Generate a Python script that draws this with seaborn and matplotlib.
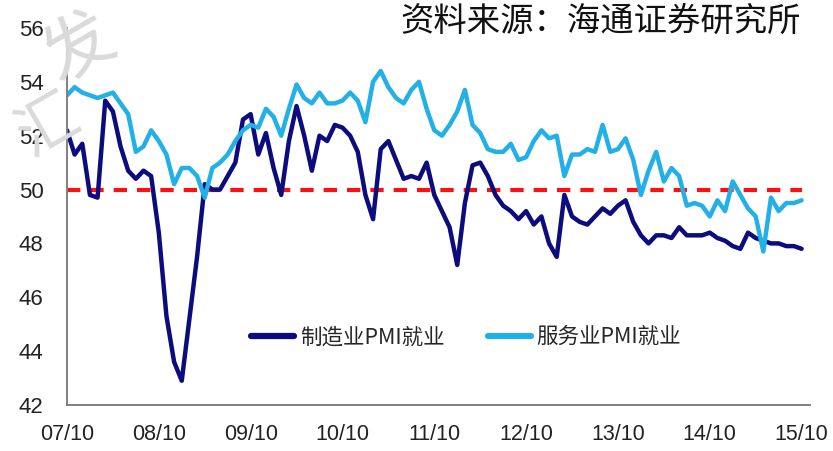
import numpy as np
import pandas as pd
import matplotlib
matplotlib.use("Agg")
import matplotlib.pyplot as plt
import seaborn as sns

# Monthly PMI employment sub-indices, 2007/10 - 2015/10
manufacturing = [
    52.2, 51.3, 51.7, 49.8, 49.7, 53.3, 52.9, 51.6, 50.7, 50.4, 50.7, 50.5,
    48.4, 45.3, 43.6, 42.9, 45.2, 47.5, 50.2, 50.0, 50.0, 50.5, 51.0, 52.6,
    52.8, 51.3, 52.1, 50.8, 49.8, 51.8, 53.1, 52.0, 50.7, 52.0, 51.8, 52.4,
    52.3, 52.0, 51.4, 49.8, 48.9, 51.5, 51.8, 51.1, 50.4, 50.5, 50.4, 51.0,
    49.8, 49.2, 48.6, 47.2, 49.5, 50.9, 51.0, 50.5, 49.8, 49.4, 49.2, 48.9,
    49.2, 48.7, 49.0, 48.0, 47.5, 49.8, 49.0, 48.8, 48.7, 49.0, 49.3, 49.1,
    49.4, 49.6, 48.8, 48.3, 48.0, 48.3, 48.3, 48.2, 48.6, 48.3, 48.3, 48.3,
    48.4, 48.2, 48.1, 47.9, 47.8, 48.4, 48.2, 48.1, 48.0, 48.0, 47.9, 47.9,
    47.8,
]
services = [
    53.5, 53.8, 53.6, 53.5, 53.4, 53.5, 53.6, 53.2, 52.8, 51.4, 51.6, 52.2,
    51.8, 51.3, 50.2, 50.8, 50.8, 50.5, 49.7, 50.8, 51.0, 51.3, 51.8, 52.2,
    52.4, 52.3, 53.0, 52.7, 52.0, 53.0, 53.9, 53.4, 53.2, 53.6, 53.2, 53.2,
    53.3, 53.6, 53.3, 52.5, 54.0, 54.4, 53.8, 53.4, 53.2, 53.7, 54.0, 53.0,
    52.2, 52.0, 52.4, 52.9, 53.7, 52.4, 52.1, 51.5, 51.4, 51.4, 51.7, 51.1,
    51.2, 51.8, 52.2, 51.9, 52.0, 50.5, 51.3, 51.3, 51.5, 51.4, 52.4, 51.4,
    51.5, 51.9, 51.1, 49.8, 50.7, 51.4, 50.3, 50.8, 50.5, 49.4, 49.5, 49.4,
    49.0, 49.6, 49.2, 50.3, 49.8, 49.3, 49.0, 47.7, 49.7, 49.2, 49.5, 49.5,
    49.6,
]
series_names = ["制造业PMI就业", "服务业PMI就业"]
x_tick_labels = ["07/10", "08/10", "09/10", "10/10", "11/10",
                 "12/10", "13/10", "14/10", "15/10"]
y_ticks = [42, 44, 46, 48, 50, 52, 54, 56]
threshold = 50
source_note = "资料来源：海通证券研究所"

months = np.arange(len(manufacturing))
df = pd.DataFrame({
    "month": np.concatenate([months, months]),
    "value": manufacturing + services,
    "series": [series_names[0]] * len(months) + [series_names[1]] * len(months),
})

sns.set_style("white")
plt.rcParams["font.family"] = ["Liberation Sans", "Noto Sans CJK SC", "DejaVu Sans"]

fig = plt.figure(figsize=(8.33, 4.51), dpi=100)
ax = fig.add_axes([0.0804, 0.102, 0.892, 0.836])

# faint watermark strokes in the corner (behind everything)
fig.text(0.095, 0.895, "发", ha="center", va="center", fontsize=50, rotation=30,
         color="#dadada", family=["Noto Sans CJK SC"], zorder=0)
fig.text(0.058, 0.72, "汇", ha="center", va="center", fontsize=44, rotation=30,
         color="#dadada", family=["Noto Sans CJK SC"], zorder=0)
ax.patch.set_alpha(0)

palette = {series_names[0]: "#0c0c7e", series_names[1]: "#22b0e6"}
sns.lineplot(data=df, x="month", y="value", hue="series", palette=palette,
             linewidth=3.2, ax=ax, legend=False, sort=False)
for ln in ax.get_lines():
    ln.set_solid_joinstyle("round")
    ln.set_solid_capstyle("round")

# 50 boom/bust reference
ax.axhline(threshold, xmin=0, xmax=96 / 97.1, color="#ff1010",
           linewidth=3.0, dashes=(3.2, 2.4), zorder=1)

ax.set_xlim(0, 97.1)
ax.set_ylim(42, 56)
ax.set_xticks(np.arange(0, 97, 12))
ax.set_xticklabels(x_tick_labels, fontsize=15.5, color="#222222")
ax.set_yticks(y_ticks)
ax.set_yticklabels([str(v) for v in y_ticks], fontsize=16, color="#222222")
ax.set_xlabel("")
ax.set_ylabel("")

for side in ("top", "right"):
    ax.spines[side].set_visible(False)
for side in ("left", "bottom"):
    ax.spines[side].set_color("#808080")
    ax.spines[side].set_linewidth(1.4)
ax.tick_params(axis="both", direction="out", length=5, width=1.2,
               color="#808080")
ax.tick_params(axis="y", pad=12)
ax.tick_params(axis="x", pad=9)

# legend
handles = [plt.Line2D([], [], color=palette[n], linewidth=4.5,
                      solid_capstyle="round") for n in series_names]
ax.legend(handles, series_names, loc="center", bbox_to_anchor=(0.537, 0.18),
          ncol=2, frameon=False, handlelength=2.0, handletextpad=0.25,
          columnspacing=2.0,
          prop={"family": ["Noto Sans CJK SC", "DejaVu Sans"], "size": 15.5})

fig.text(0.962, 0.952, source_note, ha="right", va="center", fontsize=24,
         family=["Noto Sans CJK SC", "DejaVu Sans"], color="#111111")

fig.savefig("out.png", dpi=100)
